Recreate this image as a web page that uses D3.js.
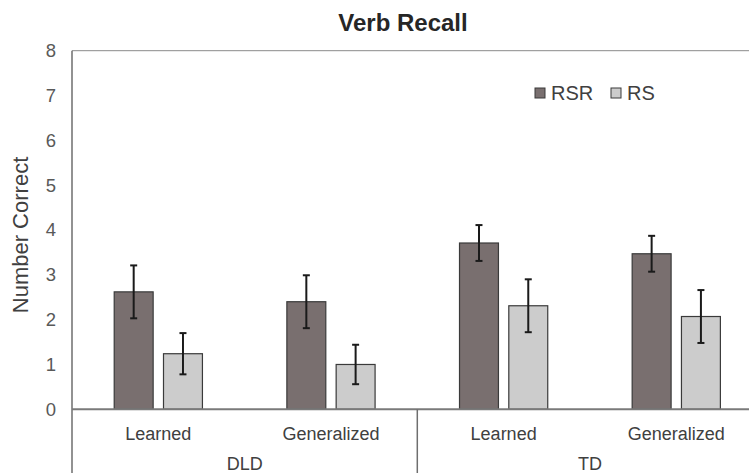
<!DOCTYPE html>
<html>
<head>
<meta charset="utf-8">
<script src="https://cdn.jsdelivr.net/npm/d3@7"></script>
<style>
  html, body { margin: 0; padding: 0; background: #fff; overflow: hidden; }
  svg { display: block; font-family: "Liberation Sans", Arial, sans-serif; }
</style>
</head>
<body>
<svg id="chart" width="749" height="473"></svg>
<script>
// ---- data ----
const conditions = ["Learned", "Generalized", "Learned", "Generalized"];
const groups = ["DLD", "TD"];
const seriesNames = ["RSR", "RS"];
const rsrValues = [2.62, 2.40, 3.71, 3.47];
const rsValues = [1.24, 1.00, 2.31, 2.07];
const rsrErrors = [0.59, 0.59, 0.40, 0.40];
const rsErrors = [0.46, 0.44, 0.59, 0.59];
const yTicks = [0, 1, 2, 3, 4, 5, 6, 7, 8];
const colors = { RSR: "#796f6f", RS: "#cccccc" };

const svg = d3.select("#chart");
const pLeft = 72, pRight = 762.6, pTop = 50.7, pBottom = 409.3, H = 473;

const catIdx = conditions.map((c, i) => i);
const x0 = d3.scaleBand().domain(catIdx).range([pLeft, pRight]).padding(0);
const bw = x0.bandwidth();
const x1 = d3.scaleBand().domain(seriesNames).range([0.2445 * bw, 0.7555 * bw]).paddingInner(0.21).paddingOuter(0);
const y = d3.scaleLinear().domain([0, 8]).range([pBottom, pTop]);

// plot area border (top)
svg.append("line").attr("x1", pLeft).attr("x2", pRight).attr("y1", y(8)).attr("y2", y(8))
  .attr("stroke", "#8a8a8a").attr("stroke-width", 1);

// y axis
const yAxis = d3.axisLeft(y).tickValues(yTicks).tickSize(0).tickPadding(16).tickFormat(d3.format("d"));
const gy = svg.append("g").attr("transform", `translate(${pLeft},0)`).call(yAxis);
gy.select(".domain").remove();
gy.selectAll("text").attr("font-size", 18.5).attr("fill", "#595959").attr("font-family", "Liberation Sans, Arial, sans-serif");
svg.append("line").attr("x1", pLeft).attr("x2", pLeft).attr("y1", y(8)).attr("y2", H)
  .attr("stroke", "#6e6e6e").attr("stroke-width", 1.5);

// bars
const data = catIdx.map(i => ({
  i,
  vals: [
    { key: "RSR", v: rsrValues[i], e: rsrErrors[i] },
    { key: "RS", v: rsValues[i], e: rsErrors[i] }
  ]
}));
const g = svg.append("g").selectAll("g").data(data).join("g")
  .attr("transform", d => `translate(${x0(d.i)},0)`);
g.selectAll("rect").data(d => d.vals).join("rect")
  .attr("x", d => x1(d.key)).attr("width", x1.bandwidth())
  .attr("y", d => y(d.v)).attr("height", d => y(0) - y(d.v))
  .attr("fill", d => colors[d.key]).attr("stroke", "#3a3a3a").attr("stroke-width", 1.2);

// error bars
const eb = g.selectAll("g.err").data(d => d.vals).join("g").attr("class", "err");
const cx = d => x1(d.key) + x1.bandwidth() / 2;
eb.append("line").attr("x1", cx).attr("x2", cx)
  .attr("y1", d => y(d.v + d.e)).attr("y2", d => y(d.v - d.e))
  .attr("stroke", "#1a1a1a").attr("stroke-width", 2);
eb.append("line").attr("x1", d => cx(d) - 3.5).attr("x2", d => cx(d) + 3.5)
  .attr("y1", d => y(d.v + d.e)).attr("y2", d => y(d.v + d.e))
  .attr("stroke", "#1a1a1a").attr("stroke-width", 2);
eb.append("line").attr("x1", d => cx(d) - 3.5).attr("x2", d => cx(d) + 3.5)
  .attr("y1", d => y(d.v - d.e)).attr("y2", d => y(d.v - d.e))
  .attr("stroke", "#1a1a1a").attr("stroke-width", 2);

// baseline
svg.append("line").attr("x1", pLeft).attr("x2", pRight).attr("y1", y(0)).attr("y2", y(0))
  .attr("stroke", "#7a7a7a").attr("stroke-width", 2);

// category labels
svg.append("g").selectAll("text").data(catIdx).join("text")
  .attr("x", i => x0(i) + bw / 2).attr("y", 440)
  .attr("text-anchor", "middle").attr("font-size", 18).attr("fill", "#404040")
  .text(i => conditions[i]);

// group labels and dividers
groups.forEach((gname, k) => {
  const gx0 = x0(k * 2), gx1 = x0(k * 2 + 1) + bw;
  svg.append("text").attr("x", (gx0 + gx1) / 2).attr("y", 470)
    .attr("text-anchor", "middle").attr("font-size", 18).attr("fill", "#404040").text(gname);
  svg.append("line").attr("x1", gx1).attr("x2", gx1).attr("y1", y(0)).attr("y2", H)
    .attr("stroke", "#6e6e6e").attr("stroke-width", 1.5);
});

// y axis title
svg.append("text").attr("transform", `translate(28,${(pTop + pBottom) / 2 + 5}) rotate(-90)`)
  .attr("text-anchor", "middle").attr("font-size", 22).attr("fill", "#404040").text("Number Correct");

// title
svg.append("text").attr("x", 403).attr("y", 31).attr("text-anchor", "middle")
  .attr("font-size", 24).attr("font-weight", "bold").attr("fill", "#262626").text("Verb Recall");

// legend
const legX = [535, 611];
const leg = svg.append("g").selectAll("g").data(seriesNames).join("g")
  .attr("transform", (d, i) => `translate(${legX[i]},88)`);
leg.append("rect").attr("width", 10).attr("height", 10)
  .attr("fill", d => colors[d]).attr("stroke", "#3a3a3a").attr("stroke-width", 1);
leg.append("text").attr("x", 16).attr("y", 11.5).attr("font-size", 20).attr("fill", "#404040").text(d => d);
</script>
</body>
</html>
